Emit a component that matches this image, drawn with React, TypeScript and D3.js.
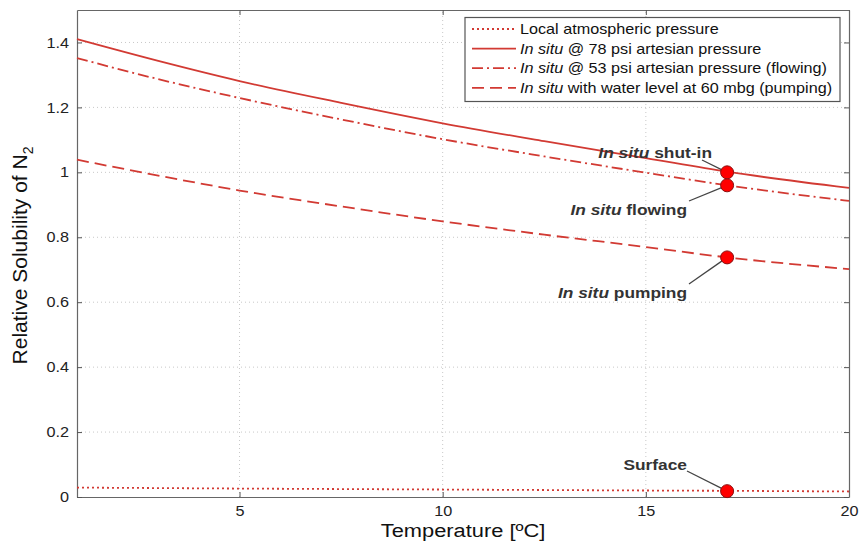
import { useRef, useEffect } from "react";
import * as d3 from "d3";

// temperature samples [°C]
const temps = [1, 3, 5, 7.5, 10, 12.5, 15, 17, 20];
// relative N2 solubility for each scenario
const atmospheric = [0.029, 0.0275, 0.026, 0.0245, 0.023, 0.0215, 0.02, 0.019, 0.017];
const shutIn = [1.41, 1.343, 1.281, 1.214, 1.151, 1.096, 1.044, 1.002, 0.952];
const flowing = [1.352, 1.287, 1.229, 1.163, 1.102, 1.049, 0.999, 0.96, 0.912];
const pumping = [1.039, 0.99, 0.944, 0.895, 0.849, 0.808, 0.77, 0.738, 0.702];

// sampling points marked at 17 °C
const markerTemp = 17;
const markerValues = [1.0, 0.96, 0.738, 0.018];
const markerLabels = [
  ["In situ", " shut-in"],
  ["In situ", " flowing"],
  ["In situ", " pumping"],
  ["", "Surface"],
];

const xTicks = [5, 10, 15, 20];
const yTicks = [0, 0.2, 0.4, 0.6, 0.8, 1, 1.2, 1.4];

const legendLabels = [
  ["", "Local atmospheric pressure"],
  ["In situ", " @ 78 psi artesian pressure"],
  ["In situ", " @ 53 psi artesian pressure (flowing)"],
  ["In situ", " with water level at 60 mbg (pumping)"],
];

function App() {
  const svgRef = useRef<SVGSVGElement>(null);

  useEffect(() => {
    const w = 860;
    const h = 544;
    const m = { left: 77, right: 11, top: 10, bottom: 47 };
    const font = "Liberation Sans, Arial, sans-serif";
    const red = "#d23a33";
    const sx = 1.12; // the original text is a bit wider than our font

    const svg = d3.select(svgRef.current).attr("width", w).attr("height", h);
    svg.selectAll("*").remove();

    const x = d3.scaleLinear().domain([1, 20]).range([m.left, w - m.right]);
    const y = d3.scaleLinear().domain([0, 1.5]).range([h - m.bottom, m.top]);

    svg.append("rect").attr("width", w).attr("height", h).attr("fill", "#fff");

    // grid
    const grid = svg.append("g").attr("stroke", "#c8c8c8").attr("stroke-dasharray", "1,3");
    grid
      .selectAll(".gx")
      .data(xTicks.filter((d) => d < 20))
      .join("line")
      .attr("x1", (d) => x(d))
      .attr("x2", (d) => x(d))
      .attr("y1", y(0))
      .attr("y2", y(1.5));
    grid
      .selectAll(".gy")
      .data(yTicks.filter((d) => d > 0))
      .join("line")
      .attr("x1", x(1))
      .attr("x2", x(20))
      .attr("y1", (d) => y(d))
      .attr("y2", (d) => y(d));

    // axes
    const xAxis = d3.axisBottom(x).tickValues(xTicks).tickSizeInner(-5).tickSizeOuter(0).tickPadding(9);
    const yAxis = d3
      .axisLeft(y)
      .tickValues(yTicks)
      .tickSizeInner(-5)
      .tickSizeOuter(0)
      .tickPadding(8)
      .tickFormat((d) => String(d));
    const gx = svg.append("g").attr("transform", `translate(0, ${y(0)})`).call(xAxis);
    const gy = svg.append("g").attr("transform", `translate(${x(1)}, 0)`).call(yAxis);
    const gxTop = svg.append("g").attr("transform", `translate(0, ${y(1.5)})`).call(
      d3.axisTop(x).tickValues(xTicks).tickSizeInner(-5).tickSizeOuter(0).tickFormat(() => "")
    );
    const gyRight = svg.append("g").attr("transform", `translate(${x(20)}, 0)`).call(
      d3.axisRight(y).tickValues(yTicks).tickSizeInner(-5).tickSizeOuter(0).tickFormat(() => "")
    );
    [gx, gy, gxTop, gyRight].forEach((g) => {
      g.selectAll("path").attr("stroke", "#666").attr("stroke-width", 1.2);
      g.selectAll("line").attr("stroke", "#555");
      g.selectAll("text")
        .attr("font-family", font)
        .attr("font-size", 14.5)
        .attr("fill", "#222")
        .attr("transform", `scale(${sx}, 1)`);
    });
    gy.selectAll("text").attr("x", -8 / sx);

    // axis labels
    svg
      .append("text")
      .attr("transform", `translate(${(x(1) + x(20)) / 2}, 537) scale(1.15, 1)`)
      .attr("text-anchor", "middle")
      .attr("font-family", font)
      .attr("font-size", 19)
      .attr("fill", "#111")
      .text("Temperature [ºC]");

    const yl = svg
      .append("text")
      .attr("transform", `translate(27, ${(y(0) + y(1.5)) / 2 + 2}) rotate(-90)`)
      .attr("text-anchor", "middle")
      .attr("font-family", font)
      .attr("font-size", 21)
      .attr("fill", "#111");
    yl.append("tspan").text("Relative Solubility of N");
    yl.append("tspan").attr("font-size", 14).attr("dy", 6).text("2");

    // curves
    const series = [
      { values: atmospheric, dash: "2,3" },
      { values: shutIn, dash: null },
      { values: flowing, dash: "11,4,2,4" },
      { values: pumping, dash: "12,6" },
    ];
    const line = d3
      .line<number>()
      .x((d, i) => x(temps[i]))
      .y((d) => y(d))
      .curve(d3.curveMonotoneX);
    series.forEach((s) => {
      svg
        .append("path")
        .attr("d", line(s.values))
        .attr("fill", "none")
        .attr("stroke", red)
        .attr("stroke-width", 1.8)
        .attr("stroke-dasharray", s.dash);
    });

    // annotations
    const labelPos = [
      { tx: 712, ty: 158, lx: 702, ly: 160 },
      { tx: 687, ty: 215, lx: 689, ly: 201 },
      { tx: 687, ty: 298, lx: 689, ly: 284 },
      { tx: 687, ty: 470, lx: 687, ly: 471 },
    ];
    markerValues.forEach((v, i) => {
      const p = labelPos[i];
      svg
        .append("line")
        .attr("x1", p.lx)
        .attr("y1", p.ly)
        .attr("x2", x(markerTemp))
        .attr("y2", y(v))
        .attr("stroke", "#444")
        .attr("stroke-width", 1.3);
      const t = svg
        .append("text")
        .attr("transform", `translate(${p.tx}, ${p.ty}) scale(${sx}, 1)`)
        .attr("text-anchor", "end")
        .attr("font-family", font)
        .attr("font-weight", "bold")
        .attr("font-size", 15.5)
        .attr("fill", "#333");
      if (markerLabels[i][0]) t.append("tspan").attr("font-style", "italic").text(markerLabels[i][0]);
      t.append("tspan").text(markerLabels[i][1]);
    });
    svg
      .selectAll(".marker")
      .data(markerValues)
      .join("circle")
      .attr("cx", x(markerTemp))
      .attr("cy", (d) => y(d))
      .attr("r", 6.5)
      .attr("fill", "#f00")
      .attr("stroke", "#8a1010")
      .attr("stroke-width", 1);

    // legend
    const lg = svg.append("g");
    lg.append("rect")
      .attr("x", 465)
      .attr("y", 17.5)
      .attr("width", 375)
      .attr("height", 84)
      .attr("fill", "#fff")
      .attr("stroke", "#555")
      .attr("stroke-width", 1.2);
    series.forEach((s, i) => {
      const ly = 29 + i * 19.6;
      lg.append("line")
        .attr("x1", 472)
        .attr("x2", 516)
        .attr("y1", ly)
        .attr("y2", ly)
        .attr("stroke", red)
        .attr("stroke-width", 1.8)
        .attr("stroke-dasharray", s.dash);
      const t = lg
        .append("text")
        .attr("transform", `translate(520, ${ly + 5}) scale(1.14, 1)`)
        .attr("font-family", font)
        .attr("font-size", 14.2)
        .attr("fill", "#111");
      if (legendLabels[i][0]) t.append("tspan").attr("font-style", "italic").text(legendLabels[i][0]);
      t.append("tspan").text(legendLabels[i][1]);
    });
  }, []);

  return <svg ref={svgRef} style={{ position: "absolute", left: 0, top: 0 }}></svg>;
}

export default App;
